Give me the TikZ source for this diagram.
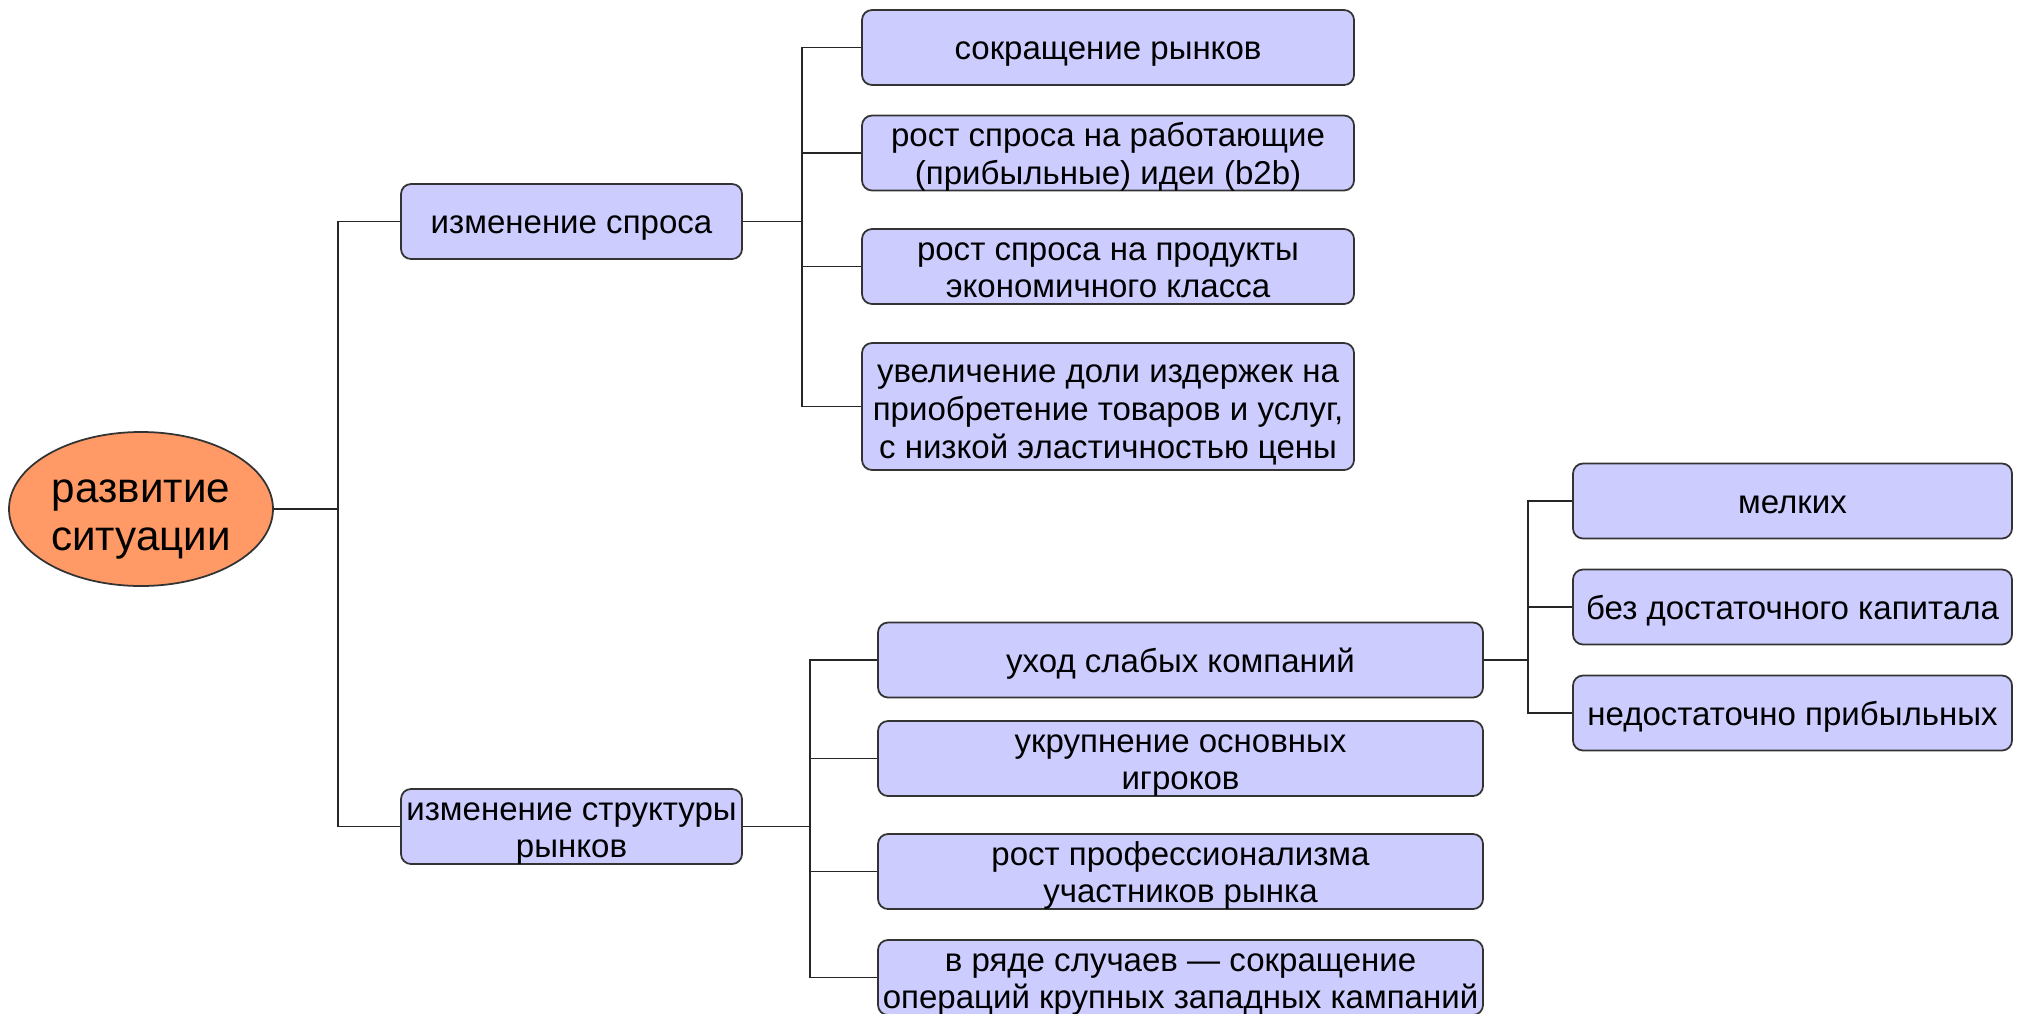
\documentclass[tikz,border=0pt]{standalone}
\usepackage{fontspec}
\setmainfont{Liberation Sans}
\usepackage{tikz}
\usetikzlibrary{shapes.geometric}
\definecolor{boxfill}{HTML}{CCCCFF}
\definecolor{rootfill}{HTML}{FF9966}

\begin{document}
\begin{tikzpicture}[
    box/.style={draw=black!80, line width=0.5pt, fill=boxfill, rounded corners=0.1cm,
      align=center, inner sep=0pt, minimum height=0.75cm, font=\fontsize{9.4}{10.8}\selectfont},
    one/.style={text height=8.1pt, text depth=1pt},
    two/.style={text height=18.9pt, text depth=1pt},
    three/.style={text height=30.4pt, text depth=1pt},
    root/.style={ellipse, draw=black!80, line width=0.5pt, fill=rootfill, align=center,
      inner sep=0pt, minimum width=2.64cm, minimum height=1.54cm, font=\fontsize{12}{13.7}\selectfont,
      text height=24.5pt, text depth=1pt},
    link/.style={line width=0.5pt, black!85}
  ]
    \useasboundingbox (0,0) rectangle (20.18,-10.13);
    \node[root] (root) at (1.41,-5.09){развитие\\ситуации};
    \node[box, one, minimum width=3.41cm] (dem) at (5.715,-2.215){изменение спроса};
    \node[box, two, minimum width=3.41cm] (str) at (5.715,-8.265){изменение структуры\\рынков};
    \node[box, one, minimum width=4.92cm] (d1) at (11.08,-0.475){сокращение рынков};
    \node[box, two, minimum width=4.92cm] (d2) at (11.08,-1.53){рост спроса на работающие\\(прибыльные) идеи (b2b)};
    \node[box, two, minimum width=4.92cm] (d3) at (11.08,-2.665){рост спроса на продукты\\экономичного класса};
    \node[box, three, minimum width=4.92cm, minimum height=1.27cm] (d4) at (11.08,-4.065){увеличение доли издержек на\\приобретение товаров и услуг,\\с низкой эластичностью цены};
    \node[box, one, minimum width=6.05cm] (s1) at (11.805,-6.60){уход слабых компаний};
    \node[box, two, minimum width=6.05cm] (s2) at (11.805,-7.585){укрупнение основных\\игроков};
    \node[box, two, minimum width=6.05cm] (s3) at (11.805,-8.715){рост профессионализма\\участников рынка};
    \node[box, two, minimum width=6.05cm] (s4) at (11.805,-9.775){в ряде случаев — сокращение\\операций крупных западных кампаний};
    \node[box, one, minimum width=4.39cm] (w1) at (17.925,-5.01){мелких};
    \node[box, one, minimum width=4.39cm] (w2) at (17.925,-6.07){без достаточного капитала};
    \node[box, one, minimum width=4.39cm] (w3) at (17.925,-7.13){недостаточно прибыльных};
    \coordinate (j0) at (3.38,-5.09);
    \coordinate (j1) at (8.02,-2.215);
    \coordinate (j2) at (8.10,-8.265);
    \coordinate (j3) at (15.28,-6.60);
    \draw[link] (root.east)--(j0);
    \draw[link] (dem.west)-|(j0);
    \draw[link] (str.west)-|(j0);
    \draw[link] (dem.east)--(j1);
    \draw[link] (d1.west)-|(j1);
    \draw[link] (d2.west)-|(j1);
    \draw[link] (d3.west)-|(j1);
    \draw[link] (d4.west)-|(j1);
    \draw[link] (str.east)--(j2);
    \draw[link] (s1.west)-|(j2);
    \draw[link] (s2.west)-|(j2);
    \draw[link] (s3.west)-|(j2);
    \draw[link] (s4.west)-|(j2);
    \draw[link] (s1.east)--(j3);
    \draw[link] (w1.west)-|(j3);
    \draw[link] (w2.west)-|(j3);
    \draw[link] (w3.west)-|(j3);
  \end{tikzpicture}
\end{document}
